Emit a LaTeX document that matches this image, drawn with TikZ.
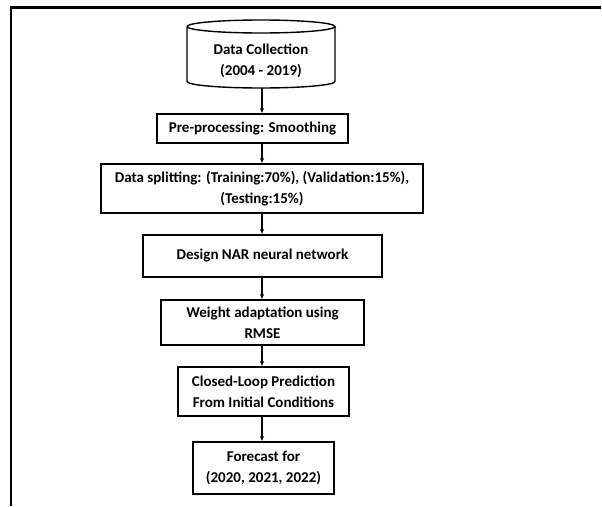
\documentclass[tikz,border=0pt]{standalone}
\usepackage{fontspec}
\setmainfont{Carlito}
\usetikzlibrary{arrows.meta}

\begin{document}
\begin{tikzpicture}[x=1pt,y=-1pt,
    box/.style={draw,line width=1.4pt,align=center,inner sep=2pt,font=\bfseries\fontsize{15}{21}\selectfont},
    arr/.style={line width=1.2pt,-{Latex[length=5pt,width=4.5pt]}}]
        \useasboundingbox (0,0) rectangle (602,506);
        \draw[line width=2.4pt] (601,7.5)--(11,7.5)--(11,506);
        \draw[line width=1.4pt] (187,26.5) arc[start angle=180,end angle=-180,x radius=74,y radius=6.5];
        \draw[line width=1.4pt] (187,26.5)--(187,81.5) arc[start angle=180,end angle=360,x radius=74,y radius=-6.5]--(335,26.5);
        \node[align=center,font=\bfseries\fontsize{15}{21}\selectfont] (data) at (261,61) {Data Collection\\(2004 - 2019)};
        \coordinate (datab) at (262,88);
        \node[box,minimum width=191pt,minimum height=29pt] (prep) at (252.5,128.5) {Pre-processing: Smoothing};
        \node[box,minimum width=322pt,minimum height=49pt] (split) at (262,188.5) {Data splitting: (Training:70\%), (Validation:15\%),\\(Testing:15\%)};
        \node[box,minimum width=239pt,minimum height=42pt] (nar) at (262.5,256) {Design NAR neural network};
        \node[box,minimum width=203pt,minimum height=45pt] (weight) at (262.5,322.5) {Weight adaptation using\\RMSE};
        \node[box,minimum width=171pt,minimum height=49pt] (loop) at (263.5,391.5) {Closed-Loop Prediction\\From Initial Conditions};
        \node[box,minimum width=141pt,minimum height=52pt] (fore) at (263.5,468) {Forecast for\\(2020, 2021, 2022)};
        \draw[arr] (datab)--(datab |- prep.north);
        \draw[arr] (datab |- prep.south)--(datab |- split.north);
        \draw[arr] (datab |- split.south)--(datab |- nar.north);
        \draw[arr] (datab |- nar.south)--(datab |- weight.north);
        \draw[arr] (datab |- weight.south)--(datab |- loop.north);
        \draw[arr] (datab |- loop.south)--(datab |- fore.north);
    \end{tikzpicture}
\end{document}
